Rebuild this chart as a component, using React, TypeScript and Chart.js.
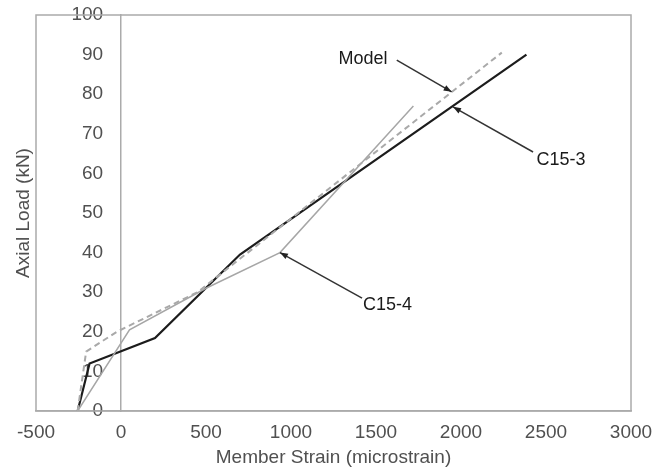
import React, { useEffect, useRef } from "react";
import { Chart, registerables } from "chart.js";

Chart.register(...registerables);

// ---- data (strain in microstrain, load in kN) ----
const c153Strain = [-255, -185, 200, 700, 2385];
const c153Load = [0, 12, 18.4, 39.5, 90];

const c154Strain = [-255, 50, 500, 935, 1720];
const c154Load = [0, 20.5, 31, 40, 77];

const modelStrain = [-255, -205, -25, 450, 2240];
const modelLoad = [0, 15, 20, 30, 90.5];

const xTickMin = -500;
const xTickMax = 3000;
const xTickStep = 500;
const yTickMin = 0;
const yTickMax = 100;
const yTickStep = 10;

const xTitle = "Member Strain (microstrain)";
const yTitle = "Axial Load (kN)";

// annotations (data coordinates)
const annLabels = ["Model", "C15-3", "C15-4"];
const annTextStrain = [1424, 2588, 1568];
const annTextLoad = [88.9, 63.4, 26.8];
const annFromStrain = [1622, 2424, 1418];
const annFromLoad = [88.6, 65.4, 28.5];
const annTipStrain = [1945, 1953, 935];
const annTipLoad = [80.6, 76.8, 40];

const FONT = 'Arial, "Liberation Sans", sans-serif';
const AXIS_GRAY = "#ababab";
const TEXT_GRAY = "#505050";

const toPts = (xs: number[], ys: number[]) => xs.map((x, i) => ({ x, y: ys[i] }));

const decorPlugin = {
  id: "decor",
  afterDatasetsDraw(chart: any) {
    const { ctx, chartArea } = chart;
    const xs = chart.scales.x;
    const ys = chart.scales.y;
    ctx.save();
    // frame
    ctx.strokeStyle = AXIS_GRAY;
    ctx.lineWidth = 1.5;
    ctx.strokeRect(chartArea.left, chartArea.top, chartArea.right - chartArea.left, chartArea.bottom - chartArea.top);

    // annotations
    for (let i = 0; i < annLabels.length; i++) {
      const fx = xs.getPixelForValue(annFromStrain[i]);
      const fy = ys.getPixelForValue(annFromLoad[i]);
      const tx = xs.getPixelForValue(annTipStrain[i]);
      const ty = ys.getPixelForValue(annTipLoad[i]);
      ctx.strokeStyle = "#333333";
      ctx.lineWidth = 1.5;
      ctx.beginPath();
      ctx.moveTo(fx, fy);
      ctx.lineTo(tx, ty);
      ctx.stroke();
      const ang = Math.atan2(ty - fy, tx - fx);
      const L = 8, W = 3;
      ctx.fillStyle = "#222222";
      ctx.beginPath();
      ctx.moveTo(tx, ty);
      ctx.lineTo(tx - L * Math.cos(ang) + W * Math.sin(ang), ty - L * Math.sin(ang) - W * Math.cos(ang));
      ctx.lineTo(tx - L * Math.cos(ang) - W * Math.sin(ang), ty - L * Math.sin(ang) + W * Math.cos(ang));
      ctx.closePath();
      ctx.fill();

      ctx.fillStyle = "#1a1a1a";
      ctx.font = `18px ${FONT}`;
      ctx.textAlign = "center";
      ctx.textBaseline = "middle";
      ctx.fillText(annLabels[i], xs.getPixelForValue(annTextStrain[i]), ys.getPixelForValue(annTextLoad[i]));
    }

    // axis titles
    ctx.fillStyle = TEXT_GRAY;
    ctx.font = `19px ${FONT}`;
    ctx.textAlign = "center";
    ctx.textBaseline = "middle";
    ctx.fillText(xTitle, (chartArea.left + chartArea.right) / 2, 458);
    ctx.save();
    ctx.translate(24, (chartArea.top + chartArea.bottom) / 2);
    ctx.rotate(-Math.PI / 2);
    ctx.fillText(yTitle, 0, 0);
    ctx.restore();
    ctx.restore();
  },
};

const plainLabel = (v: any) => String(v);

export default function App() {
  const ref = useRef<HTMLCanvasElement | null>(null);
  useEffect(() => {
    if (!ref.current) return;
    const chart = new Chart(ref.current, {
      type: "scatter",
      data: {
        datasets: [
          {
            label: "Model",
            data: toPts(modelStrain, modelLoad),
            showLine: true,
            borderColor: "#a9a9a9",
            borderWidth: 2,
            borderDash: [6, 4],
            pointRadius: 0,
            fill: false,
          },
          {
            label: "C15-4",
            data: toPts(c154Strain, c154Load),
            showLine: true,
            borderColor: "#a6a6a6",
            borderWidth: 1.5,
            pointRadius: 0,
            fill: false,
          },
          {
            label: "C15-3",
            data: toPts(c153Strain, c153Load),
            showLine: true,
            borderColor: "#1c1c1c",
            borderWidth: 2.2,
            pointRadius: 0,
            fill: false,
          },
        ],
      },
      options: {
        responsive: false,
        animation: false,
        layout: { padding: { left: 36, top: 15, right: 37, bottom: 61 } },
        plugins: { legend: { display: false }, tooltip: { enabled: false } },
        scales: {
          x: {
            type: "linear",
            position: { y: 0 } as any,
            min: xTickMin,
            max: xTickMax,
            grid: { display: false, drawTicks: false },
            border: { display: true, color: AXIS_GRAY, width: 1.5 },
            ticks: {
              stepSize: xTickStep,
              padding: 10,
              color: TEXT_GRAY,
              font: { size: 19, family: FONT },
              maxRotation: 0,
              autoSkip: false,
              callback: plainLabel,
            },
          },
          // axis line at strain = 0
          y: {
            type: "linear",
            position: { x: 0 } as any,
            min: yTickMin,
            max: yTickMax,
            grid: { display: false, drawTicks: false },
            border: { display: true, color: AXIS_GRAY, width: 1.5 },
            ticks: { display: false, stepSize: yTickStep },
          },
          // tick labels, set just left of the zero line
          yLabels: {
            type: "linear",
            axis: "y",
            position: { x: -105 } as any,
            min: yTickMin,
            max: yTickMax,
            grid: { display: false, drawTicks: false },
            border: { display: false },
            ticks: {
              stepSize: yTickStep,
              color: TEXT_GRAY,
              font: { size: 19, family: FONT },
              autoSkip: false,
              callback: plainLabel,
            },
          },
        } as any,
      },
      plugins: [decorPlugin],
    });
    return () => chart.destroy();
  }, []);
  return (
    <div style={{ position: "fixed", left: 0, top: 0, width: 668, height: 472, background: "#fff" }}>
      <canvas ref={ref} width={668} height={472} style={{ display: "block" }} />
    </div>
  );
}
